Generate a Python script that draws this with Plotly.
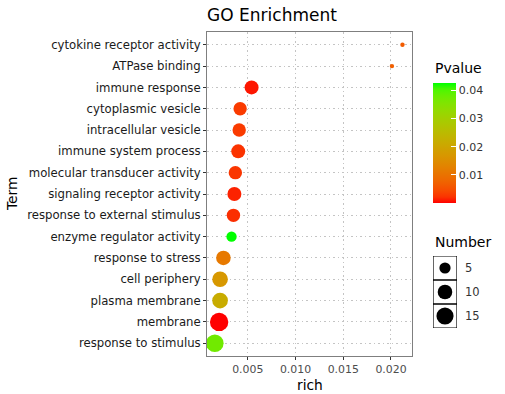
import math
import plotly.graph_objects as go

# ---- data (top-to-bottom order as displayed) ----
terms = ["cytokine receptor activity", "ATPase binding", "immune response",
         "cytoplasmic vesicle", "intracellular vesicle", "immune system process",
         "molecular transducer activity", "signaling receptor activity",
         "response to external stimulus", "enzyme regulator activity",
         "response to stress", "cell periphery", "plasma membrane", "membrane",
         "response to stimulus"]
rich = [0.0212, 0.0201, 0.0054, 0.0042, 0.0041, 0.0040, 0.0037, 0.0036,
        0.0035, 0.0033, 0.00245, 0.0021, 0.0021, 0.0020, 0.00155]
number = [1, 1, 9, 8, 8, 9, 8, 9, 8, 4, 10, 12, 12, 18, 16]
pvalue = [0.0065, 0.0070, 0.0010, 0.0030, 0.0030, 0.0022, 0.0025, 0.0015,
          0.0020, 0.0425, 0.0112, 0.0170, 0.0215, 0.0001, 0.0370]
x_ticks = [0.005, 0.010, 0.015, 0.020]
p_ticks = [0.01, 0.02, 0.03, 0.04]
size_breaks = [5, 10, 15]

W, H = 505, 394
FONT = "DejaVu Sans"

# ---- Lab colour gradient red -> green (like ggplot scale_colour_gradient) ----
def _srgb_to_lin(c):
    c = c / 255.0
    return c / 12.92 if c <= 0.04045 else ((c + 0.055) / 1.055) ** 2.4

def _lin_to_srgb(c):
    c = max(0.0, min(1.0, c))
    v = 12.92 * c if c <= 0.0031308 else 1.055 * c ** (1 / 2.4) - 0.055
    return int(round(max(0, min(1, v)) * 255))

def rgb_to_lab(rgb):
    r, g, b = [_srgb_to_lin(v) for v in rgb]
    X = (0.4124 * r + 0.3576 * g + 0.1805 * b) / 0.95047
    Y = (0.2126 * r + 0.7152 * g + 0.0722 * b)
    Z = (0.0193 * r + 0.1192 * g + 0.9505 * b) / 1.08883
    f = lambda t: t ** (1 / 3) if t > 0.008856 else 7.787 * t + 16 / 116
    fx, fy, fz = f(X), f(Y), f(Z)
    return (116 * fy - 16, 500 * (fx - fy), 200 * (fy - fz))

def lab_to_rgb(lab):
    L, a, b = lab
    fy = (L + 16) / 116
    fx = fy + a / 500
    fz = fy - b / 200
    inv = lambda t: t ** 3 if t ** 3 > 0.008856 else (t - 16 / 116) / 7.787
    X, Y, Z = inv(fx) * 0.95047, inv(fy), inv(fz) * 1.08883
    r = 3.2406 * X - 1.5372 * Y - 0.4986 * Z
    g = -0.9689 * X + 1.8758 * Y + 0.0415 * Z
    bb = 0.0557 * X - 0.2040 * Y + 1.0570 * Z
    return (_lin_to_srgb(r), _lin_to_srgb(g), _lin_to_srgb(bb))

lab_lo = rgb_to_lab((255, 0, 0))
lab_hi = rgb_to_lab((0, 255, 0))
n_stops = 21
colorscale = []
for i in range(n_stops):
    t = i / (n_stops - 1)
    lab = tuple(lo + (hi - lo) * t for lo, hi in zip(lab_lo, lab_hi))
    r, g, b = lab_to_rgb(lab)
    colorscale.append([t, f"rgb({r},{g},{b})"])

# ---- size scale (area scale, range 1..6 like ggplot) ----
nmin, nmax = min(number), max(number)
def size_px(n):
    s = 1 + 5 * math.sqrt(max(0.0, (n - nmin) / (nmax - nmin)))
    return 2.8 * s + 1.6

# ---- layout geometry (pixels) ----
pl, pr, pt, pb = 207, 412, 32, 356

fig = go.Figure()
fig.add_trace(go.Scatter(
    x=rich, y=terms, mode="markers",
    marker=dict(
        size=[size_px(n) for n in number],
        color=pvalue, colorscale=colorscale,
        cmin=min(pvalue), cmax=max(pvalue),
        line=dict(width=0), opacity=1,
        showscale=True,
        colorbar=dict(
            x=433 / W, xanchor="left", y=1 - 143 / H, yanchor="middle",
            len=120, lenmode="pixels", thickness=23, thicknessmode="pixels",
            xpad=0, ypad=0, outlinewidth=0,
            ticks="inside", tickcolor="white", ticklen=5, tickwidth=1,
            tickvals=p_ticks, ticktext=[f"{v:.2f}" for v in p_ticks],
            tickfont=dict(family=FONT, size=11, color="#333333"),
        ),
    ),
    showlegend=False, hoverinfo="skip",
))

# size legend keys on an overlay axis
fig.add_trace(go.Scatter(
    x=[0] * len(size_breaks), y=list(range(len(size_breaks))), mode="markers",
    marker=dict(size=[size_px(n) for n in size_breaks], color="#000000",
                line=dict(width=0), opacity=1),
    xaxis="x2", yaxis="y2", showlegend=False, hoverinfo="skip",
))

shapes = []
for i in range(len(size_breaks)):
    shapes.append(dict(type="rect", xref="x2", yref="y2", x0=-0.5, x1=0.5,
                       y0=i - 0.5, y1=i + 0.5, line=dict(color="black", width=1.2)))

annotations = [
    dict(text="Term", x=12 / W, y=1 - 194 / H, xref="paper", yref="paper",
         textangle=-90, showarrow=False, xanchor="center", yanchor="middle",
         font=dict(family=FONT, size=13.8, color="black")),
    dict(text="rich", x=309.5 / W, y=1 - 385 / H, xref="paper", yref="paper",
         showarrow=False, xanchor="center", yanchor="middle",
         font=dict(family=FONT, size=13.8, color="black")),
    dict(text="Pvalue", x=433 / W, y=1 - 68 / H, xref="paper", yref="paper",
         showarrow=False, xanchor="left", yanchor="middle",
         font=dict(family=FONT, size=14, color="black")),
    dict(text="Number", x=433 / W, y=1 - 242 / H, xref="paper", yref="paper",
         showarrow=False, xanchor="left", yanchor="middle",
         font=dict(family=FONT, size=14, color="black")),
]
for i, n in enumerate(size_breaks):
    annotations.append(dict(text=str(n), x=463 / W, y=i, xref="paper", yref="y2",
                            showarrow=False, xanchor="left", yanchor="middle",
                            font=dict(family=FONT, size=11.5, color="#333333")))

grid = dict(showgrid=True, gridcolor="#C4C4C4", griddash="1.5px,3px", gridwidth=1)

fig.update_layout(
    width=W, height=H,
    margin=dict(l=0, r=0, t=0, b=0),
    paper_bgcolor="white", plot_bgcolor="white",
    font=dict(family=FONT, size=11, color="#333333"),
    title=dict(text="GO Enrichment", x=272 / W, xanchor="center",
               y=1 - 15 / H, yanchor="middle",
               font=dict(family=FONT, size=17, color="black")),
    xaxis=dict(
        domain=[pl / W, pr / W], range=[0.00073, 0.0222],
        tickvals=x_ticks, ticktext=[f"{v:.3f}" for v in x_ticks],
        zeroline=False, showline=True, mirror=True, linecolor="#7F7F7F", linewidth=1,
        ticks="outside", ticklen=3, tickcolor="#333333",
        tickfont=dict(family=FONT, size=10.9, color="#4D4D4D"), automargin=False,
        **grid,
    ),
    yaxis=dict(
        domain=[1 - pb / H, 1 - pt / H], type="category",
        categoryorder="array", categoryarray=terms,
        range=[len(terms) - 1 + 0.6, -0.6],
        zeroline=False, showline=True, mirror=True, linecolor="#7F7F7F", linewidth=1,
        ticks="outside", ticklen=3, tickcolor="#333333",
        tickfont=dict(family=FONT, size=11.7, color="#1A1A1A"), automargin=False,
        **grid,
    ),
    xaxis2=dict(domain=[433 / W, 457 / W], range=[-0.5, 0.5], anchor="y2",
                visible=False, fixedrange=True),
    yaxis2=dict(domain=[1 - 328 / H, 1 - 256 / H], range=[2.5, -0.5], anchor="x2",
                visible=False, fixedrange=True),
    shapes=shapes,
    annotations=annotations,
)

fig.write_html("out.html", config={"displayModeBar": False},
               post_script="document.body.style.margin='0';document.body.style.overflow='hidden';")
